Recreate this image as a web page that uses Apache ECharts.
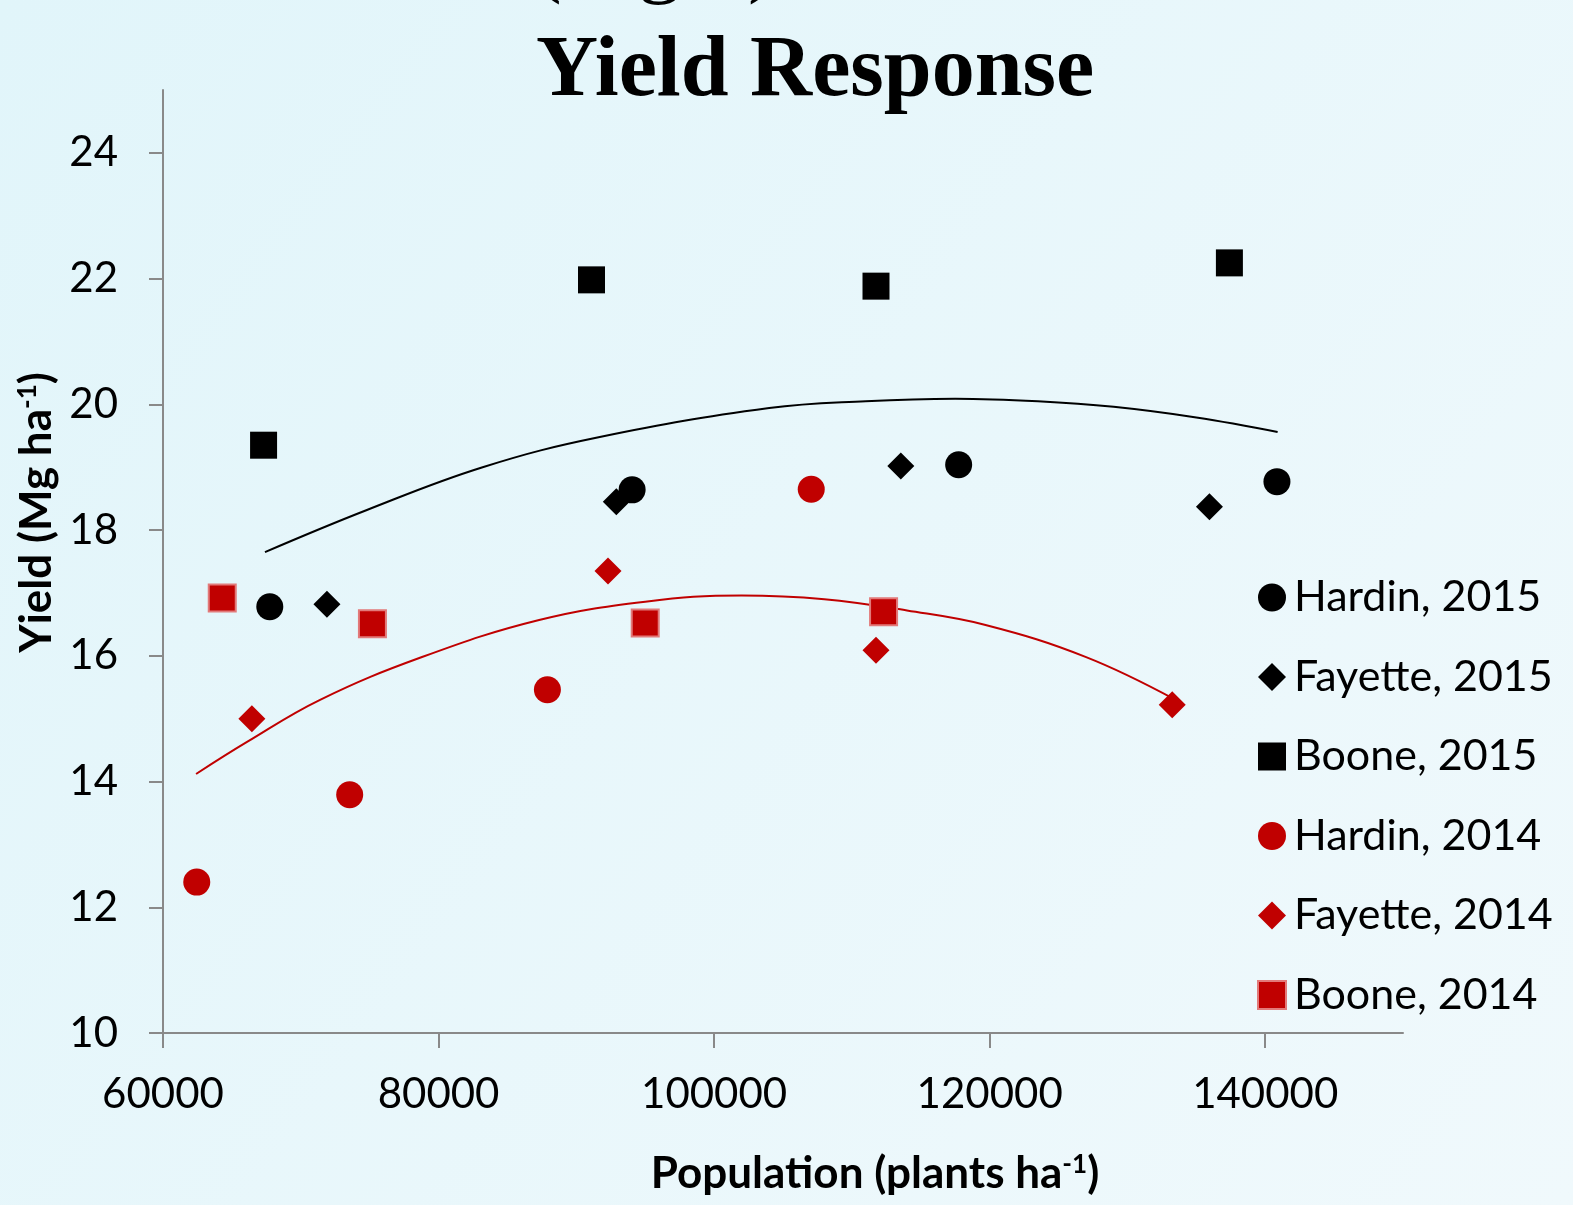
<!DOCTYPE html>
<html>
<head>
<meta charset="utf-8">
<script src="https://cdn.jsdelivr.net/npm/echarts@6/dist/echarts.min.js"></script>
<style>
  html, body { margin: 0; padding: 0; }
  #main { width: 1573px; height: 1205px; }
</style>
</head>
<body>
<div id="main"></div>
<script>
// tick labels
var xTicks = [60000, 80000, 100000, 120000, 140000];
var yTicks = [10, 12, 14, 16, 18, 20, 22, 24];

// [population, yield]
var hardin2015 = [[67750, 16.78], [94050, 18.64], [117750, 19.04], [140850, 18.77]];
var fayette2015 = [[71900, 16.82], [92900, 18.45], [113550, 19.02], [135950, 18.37]];
var boone2015 = [[67300, 19.35], [91100, 21.98], [111750, 21.88], [137400, 22.25]];
var hardin2014 = [[62450, 12.40], [73550, 13.79], [87900, 15.46], [107050, 18.65]];
var fayette2014 = [[66450, 15.00], [92300, 17.35], [111750, 16.09], [133250, 15.22]];
var boone2014 = [[64300, 16.92], [75200, 16.51], [95000, 16.52], [112300, 16.70]];

// trend curves
var trend2015 = [[67400, 17.65], [74800, 18.32], [83200, 19.00], [91700, 19.48], [104000, 19.94],
  [111000, 20.05], [117500, 20.09], [123500, 20.05], [129000, 19.96], [135000, 19.79], [140900, 19.56]];
var trend2014 = [[62400, 14.12], [66100, 14.63], [71400, 15.30], [78800, 15.98], [87300, 16.57],
  [95000, 16.86], [102000, 16.96], [108000, 16.90], [114000, 16.72], [119700, 16.49], [127000, 15.98], [133500, 15.30]];

var names = ['Hardin, 2015', 'Fayette, 2015', 'Boone, 2015', 'Hardin, 2014', 'Fayette, 2014', 'Boone, 2014'];

var RED = '#c00000';
var BLACK = '#000000';
var FONT = 'Lato';

var chart = echarts.init(document.getElementById('main'));

function scatter(name, data, symbol, color, z, border) {
  return {
    name: name,
    type: 'scatter',
    data: data,
    symbol: symbol,
    symbolSize: 27,
    z: z,
    itemStyle: {
      color: color,
      opacity: 1,
      borderColor: border || color,
      borderWidth: border ? 2 : 0
    }
  };
}

function trend(name, data, color) {
  return {
    name: name,
    type: 'line',
    data: data,
    smooth: 0.4,
    showSymbol: false,
    silent: true,
    z: 1,
    lineStyle: { color: color, width: 2 }
  };
}

var option = {
  backgroundColor: new echarts.graphic.LinearGradient(0, 0, 1, 1, [
    { offset: 0, color: '#e1f5fa' },
    { offset: 1, color: '#f0f9fc' }
  ]),
  animation: false,
  title: {
    text: 'Yield Response',
    left: 810,
    top: 25,
    textAlign: 'center',
    textStyle: {
      fontFamily: 'Liberation Serif',
      fontWeight: 'bold',
      fontSize: 86,
      color: '#000'
    }
  },
  graphic: [{
    type: 'text',
    left: 533,
    top: -80,
    style: {
      text: '(Light)',
      font: '86px "Liberation Serif"',
      fill: '#000'
    }
  }],
  grid: {
    left: 163,
    right: 170,
    top: 90,
    bottom: 172
  },
  legend: {
    data: names,
    orient: 'vertical',
    left: 1252,
    top: 571,
    itemWidth: 28,
    itemHeight: 28,
    itemGap: 36.5,
    textStyle: {
      fontFamily: FONT,
      fontSize: 43,
      lineHeight: 40,
      color: '#000',
      padding: [0, 0, 0, 3]
    }
  },
  xAxis: {
    type: 'value',
    min: 60000,
    max: 150000,
    interval: 20000,
    splitLine: { show: false },
    axisLine: { onZero: false, lineStyle: { color: '#898989', width: 2 } },
    axisTick: { show: true, length: 15, customValues: xTicks, lineStyle: { color: '#898989', width: 2 } },
    axisLabel: {
      customValues: xTicks,
      formatter: function (v) { return String(v); },
      margin: 40,
      fontFamily: FONT,
      fontSize: 42,
      color: '#000'
    },
    name: 'Population (plants ha{sup|-1})',
    nameLocation: 'middle',
    nameGap: 119,
    nameTextStyle: {
      fontFamily: FONT,
      fontWeight: 'bold',
      fontSize: 44,
      color: '#000',
      padding: [0, 0, 0, 184],
      rich: {
        sup: { fontFamily: FONT, fontWeight: 'bold', fontSize: 26, verticalAlign: 'top', color: '#000' }
      }
    }
  },
  yAxis: {
    type: 'value',
    min: 10,
    max: 25,
    interval: 2,
    splitLine: { show: false },
    axisLine: { onZero: false, lineStyle: { color: '#898989', width: 2 } },
    axisTick: { show: true, length: 14, customValues: yTicks, lineStyle: { color: '#898989', width: 2 } },
    axisLabel: {
      customValues: yTicks,
      margin: 45,
      fontFamily: FONT,
      fontSize: 42,
      color: '#000'
    },
    name: 'Yield (Mg ha{sup|-1})',
    nameLocation: 'middle',
    nameRotate: 90,
    nameGap: 103,
    nameTextStyle: {
      fontFamily: FONT,
      fontWeight: 'bold',
      fontSize: 44,
      color: '#000',
      padding: [0, 0, 0, 98],
      rich: {
        sup: { fontFamily: FONT, fontWeight: 'bold', fontSize: 26, verticalAlign: 'top', color: '#000' }
      }
    }
  },
  series: [
    trend('trend 2015', trend2015, BLACK),
    trend('trend 2014', trend2014, RED),
    scatter('Fayette, 2015', fayette2015, 'diamond', BLACK, 3),
    scatter('Hardin, 2015', hardin2015, 'circle', BLACK, 4),
    scatter('Boone, 2015', boone2015, 'rect', BLACK, 3),
    scatter('Hardin, 2014', hardin2014, 'circle', RED, 3),
    scatter('Fayette, 2014', fayette2014, 'diamond', RED, 3),
    scatter('Boone, 2014', boone2014, 'rect', RED, 3, '#e27a7a')
  ]
};

chart.setOption(option);
</script>
</body>
</html>
